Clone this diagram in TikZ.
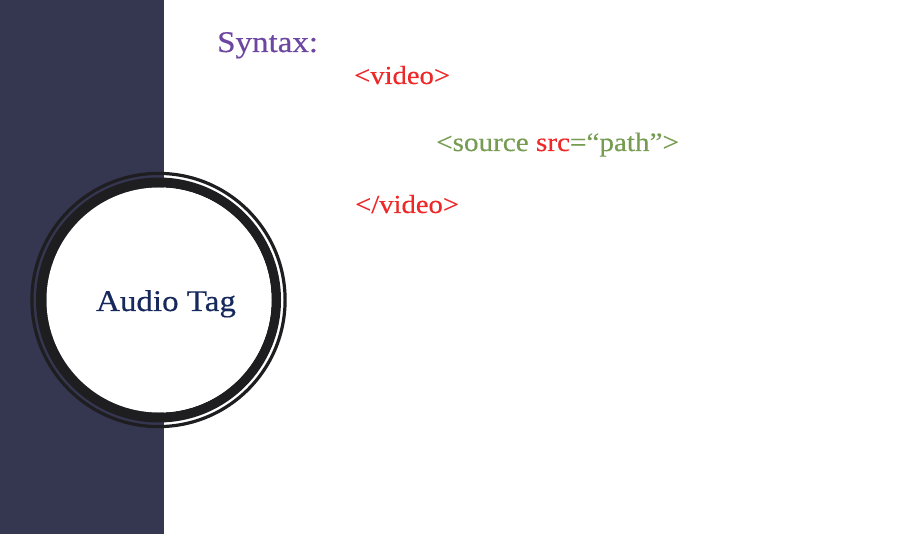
\documentclass[tikz,border=0pt]{standalone}
\usepackage{fontspec}
\setmainfont{Liberation Serif}[FakeStretch=1.1, FakeBold=0.35]
\usepackage{tikz}
\usetikzlibrary{positioning}

\definecolor{panelnavy}{RGB}{53,54,80}
\definecolor{ringblack}{RGB}{30,30,33}
\definecolor{syntaxpurple}{RGB}{108,70,160}
\definecolor{tagred}{RGB}{238,40,40}
\definecolor{attrgreen}{RGB}{118,156,82}
\definecolor{titlenavy}{RGB}{22,40,92}

\begin{document}
\begin{tikzpicture}[x=1pt, y=-1pt,
    codeline/.style={inner sep=0pt, anchor=base west, text=tagred,
      font=\fontsize{26}{30}\selectfont}]
  \useasboundingbox (0,0) rectangle (904,534);
  \fill[white] (0,0) rectangle (904,534);

  % Dark side panel
  \fill[panelnavy] (0,0) rectangle (164,534);

  % Thin outer ring (gap stays transparent)
  \draw[ringblack, line width=3.2pt] (158.5,300) circle (126.6);
  % Thick ring and white disc
  \fill[ringblack, even odd rule] (158.5,300) circle (122.5) (159,300) circle (112.5);
  \fill[white] (159,300) circle (112.5);

  % Title inside the circle
  \node[inner sep=0pt, anchor=base, text=titlenavy,
    font=\fontsize{30}{34}\selectfont] (audiotag) at (166,311) {Audio Tag};

  % Syntax block
  \node[inner sep=0pt, anchor=base west, text=syntaxpurple,
    font=\fontsize{30}{36}\selectfont] (syntax) at (217,52) {Syntax:};
  \node[codeline] (vopen) at (354,84) {<video>};
  \node[codeline, text=attrgreen, font=\fontsize{26.5}{30}\selectfont]
    (vsource) at (436,151) {<source \textcolor{tagred}{src}=“path”>};
  \node[codeline] (vclose) at (355,213) {</video>};
\end{tikzpicture}
\end{document}
